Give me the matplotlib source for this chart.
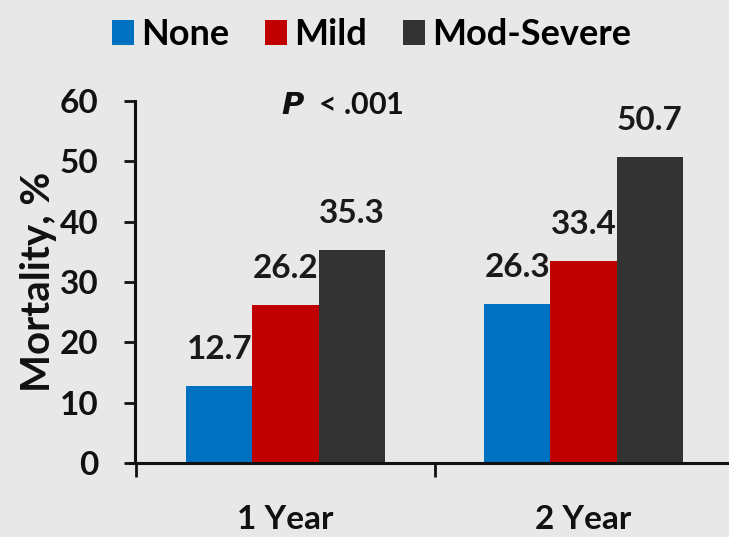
import numpy as np
import matplotlib.pyplot as plt
from matplotlib.patches import Patch

# data
periods = ['1 Year', '2 Year']
groups = ['None', 'Mild', 'Mod-Severe']
none_vals = [12.7, 26.3]
mild_vals = [26.2, 33.4]
severe_vals = [35.3, 50.7]
colors = ['#0070C0', '#C00000', '#333333']
yticks = [0, 10, 20, 30, 40, 50, 60]

plt.rcParams['font.family'] = ['Lato', 'DejaVu Sans']
plt.rcParams['font.weight'] = 'bold'

bg = '#E8E8E8'
fig = plt.figure(figsize=(7.29, 5.37), dpi=100, facecolor=bg)
ax = fig.add_axes([0.185, 0.138, 0.82, 0.674])
ax.set_facecolor(bg)

x = np.arange(len(periods))
w = 0.222
series = [none_vals, mild_vals, severe_vals]
for i, vals in enumerate(series):
    xs = x + (i - 1) * w
    ax.bar(xs, vals, width=w, color=colors[i], zorder=2)
    for xx, v in zip(xs, vals):
        ax.annotate(f'{v:.1f}', (xx, v), xytext=(0, 16), textcoords='offset points',
                    ha='center', va='bottom', fontsize=24, fontweight='bold', color='#1a1a1a', zorder=3)

ax.set_xlim(-0.505, 1.49)
ax.set_ylim(0, 60)
ax.set_yticks(yticks)
ax.set_xticks(x)
ax.set_xticklabels(periods)
ax.set_xticks([-0.5, 0.5, 1.5], minor=True)

for s in ['top', 'right']:
    ax.spines[s].set_visible(False)
for s in ['left', 'bottom']:
    ax.spines[s].set_linewidth(2.2)
    ax.spines[s].set_color('#111111')
ax.spines['bottom'].set_bounds(-0.52, 1.49)

ax.tick_params(axis='y', direction='out', length=8, width=2, pad=18, labelsize=24, colors='#111111')
ax.tick_params(axis='x', which='major', length=0, pad=30, labelsize=24, colors='#111111')
ax.tick_params(axis='x', which='minor', direction='out', length=10, width=2, color='#111111')

ax.set_ylabel('Mortality, %', fontsize=29, fontweight='bold', labelpad=2, color='#111111')

ax.text(0.19, 59.4, '$\\it{P}$  < .001', fontsize=22, ha='center', va='center', color='#111111')

handles = [Patch(facecolor=c) for c in colors]
fig.legend(handles, groups, loc='center', bbox_to_anchor=(0.51, 0.935), ncol=3, frameon=False,
           fontsize=26, handlelength=0.6, handleheight=0.7, handletextpad=0.2, columnspacing=1.0)

fig.savefig('out.png', dpi=100, facecolor=bg)
